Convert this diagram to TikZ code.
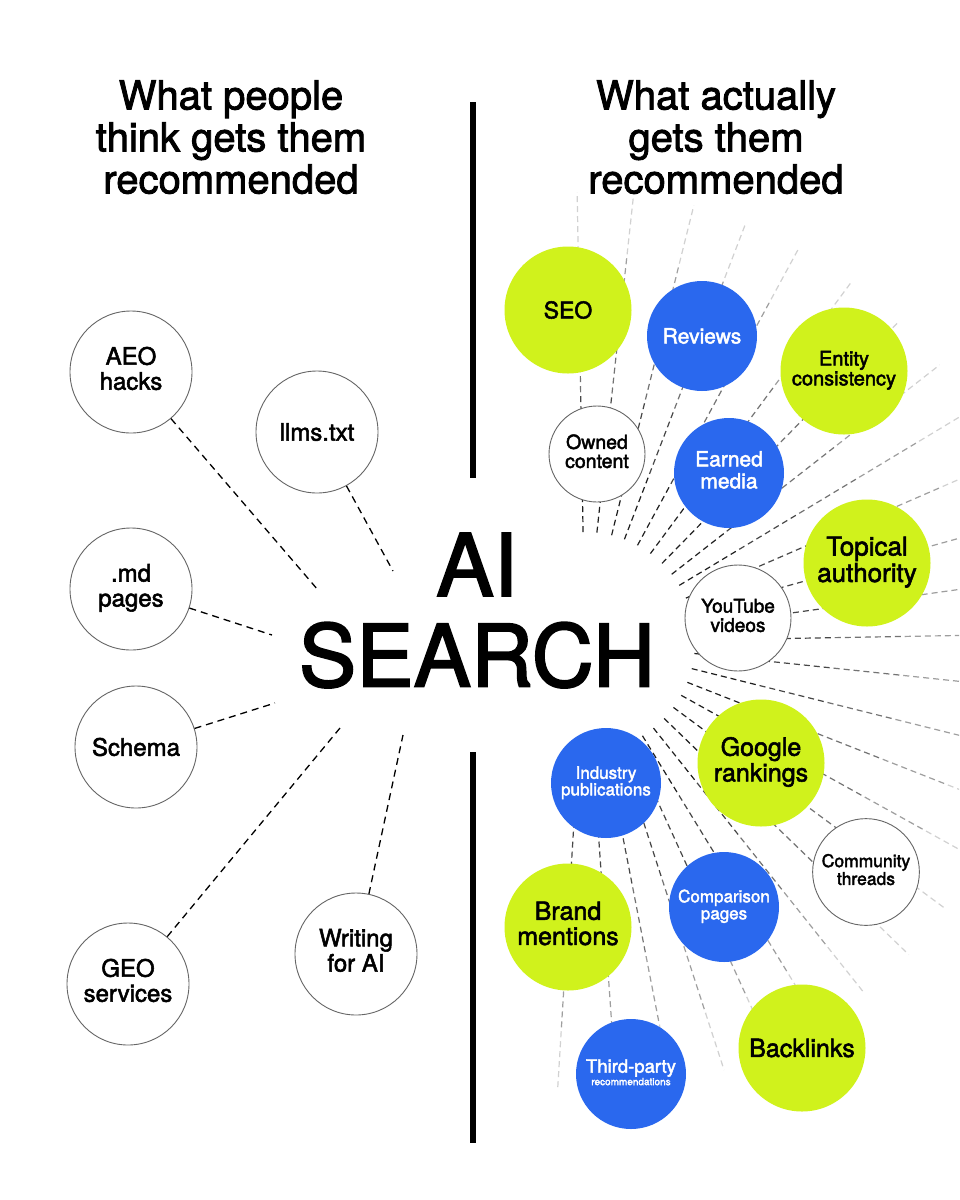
\documentclass[tikz,border=0pt]{standalone}
\usepackage{fontspec}
\setmainfont{TeX Gyre Heros}[FakeBold=2.2]
\usetikzlibrary{shapes}

\definecolor{lime}{HTML}{D0F21C}
\definecolor{brandblue}{HTML}{2A68EE}

\begin{document}
\begin{tikzpicture}[x=1pt, y=-1pt,
  bubble/.style={circle, draw=black!60, line width=0.9pt, fill=white, inner sep=0pt, minimum size=122pt, font=\fontsize{24}{25}\selectfont},
  lime bubble/.style={circle, fill=lime, inner sep=0pt, minimum size=127pt},
  blue bubble/.style={circle, fill=brandblue, text=white, inner sep=0pt, minimum size=110pt},
  link/.style={dash pattern=on 7pt off 5pt, line width=1.3pt},
  ray/.style={dash pattern=on 6pt off 4pt, line width=1.2pt}]

\useasboundingbox[fill=white] (0,0) rectangle (959,1200);

% titles
\node[font=\fontsize{40}{42}\selectfont] (L1) at (231,143) {
  \begin{tabular}{c}
    What people \\
    think gets them \\
    recommended
  \end{tabular}
  };
\node[font=\fontsize{40}{42}\selectfont] (L2) at (716,143) {
  \begin{tabular}{c}
    What actually \\
    gets them \\
    recommended
  \end{tabular}
  };

% separator
\draw[line width=5.5pt] (473,102) -- (473,478);
\draw[line width=5.5pt] (473,752) -- (473,1143);

\node[font=\fontsize{86}{88}\selectfont] (ai) at (477,623) {
  \begin{tabular}{c}
    AI \\
    SEARCH
  \end{tabular}
  };

% fan behind the right side
\coordinate (hub) at (585,642);
\begin{scope}
\clip (0,0) rectangle (959,1200);
\foreach \a in {-91,-83.8,-76,-69,-61.5,-53.5,-45.6,-38,-31,-23.5,-15.5,-8,-1,6,14,21.5,29,36.5,44,51.5,58.5,65.5,72,79,86,93.5}
  \foreach \ri/\ro/\k in {110/180/88,180/250/72,250/320/55,320/390/38,390/450/18}
    \draw[ray, black!\k, shift={(hub)}] (\a:\ri) -- (\a:\ro);
\end{scope}

% left side
\node[bubble] (n1) at (131,372) {
  \begin{tabular}{c}
    AEO \\
    hacks
  \end{tabular}
  };
\node[bubble] (n2) at (317,432) {llms.txt};
\node[bubble] (n3) at (131,589) {
  \begin{tabular}{c}
    .md \\
    pages
  \end{tabular}
  };
\node[bubble] (n4) at (136,747) {Schema};
\node[bubble] (n5) at (128,984) {
  \begin{tabular}{c}
    GEO \\
    services
  \end{tabular}
  };
\node[bubble] (n6) at (356,954) {
  \begin{tabular}{c}
    Writing \\
    for AI
  \end{tabular}
  };

\coordinate (e1) at (318,590);
\coordinate (e2) at (393,571);
\coordinate (e3) at (272,635);
\coordinate (e4) at (275,703);
\coordinate (e5) at (340,728);
\coordinate (e6) at (403,735);

\draw[link] (n1) -- (e1);
\draw[link] (n2) -- (e2);
\draw[link] (n3) -- (e3);
\draw[link] (n4) -- (e4);
\draw[link] (n5) -- (e5);
\draw[link] (n6) -- (e6);

% right side
\node[lime bubble, font=\fontsize{23}{24}\selectfont] (seo) at (568,310) {SEO};
\node[blue bubble, font=\fontsize{21}{22}\selectfont] (reviews) at (702,336) {Reviews};
\node[lime bubble, font=\fontsize{20}{19}\selectfont] (entity) at (844,371) {
  \begin{tabular}{c}
    Entity \\
    consistency
  \end{tabular}
  };
\node[bubble, minimum size=96pt, font=\fontsize{19.5}{19}\selectfont] (owned) at (597,454) {
  \begin{tabular}{c}
    Owned \\
    content
  \end{tabular}
  };
\node[blue bubble, font=\fontsize{21}{22}\selectfont] (earned) at (729,473) {
  \begin{tabular}{c}
    Earned \\
    media
  \end{tabular}
  };
\node[lime bubble, font=\fontsize{26}{25}\selectfont] (topical) at (867,563) {
  \begin{tabular}{c}
    Topical \\
    authority
  \end{tabular}
  };
\node[bubble, minimum size=106pt, font=\fontsize{19}{18}\selectfont] (youtube) at (738,618) {
  \begin{tabular}{c}
    YouTube \\
    videos
  \end{tabular}
  };
\node[lime bubble, font=\fontsize{25}{25}\selectfont] (google) at (761,763) {
  \begin{tabular}{c}
    Google \\
    rankings
  \end{tabular}
  };
\node[blue bubble, font=\fontsize{17}{14}\selectfont] (industry) at (606,783) {
  \begin{tabular}{c}
    Industry \\
    publications
  \end{tabular}
  };
\node[bubble, minimum size=102pt, font=\fontsize{17.5}{17}\selectfont] (community) at (866,872) {
  \begin{tabular}{c}
    Community \\
    threads
  \end{tabular}
  };
\node[blue bubble, font=\fontsize{17}{17}\selectfont] (comparison) at (724,907) {
  \begin{tabular}{c}
    Comparison \\
    pages
  \end{tabular}
  };
\node[lime bubble, font=\fontsize{25}{25}\selectfont] (brand) at (568,927) {
  \begin{tabular}{c}
    Brand \\
    mentions
  \end{tabular}
  };
\node[blue bubble, font=\fontsize{12}{12}\selectfont] (third) at (631,1074) {
  \begin{tabular}{c}
    {\fontsize{18.5}{18}\selectfont Third-party} \\
    {\fontsize{10}{10}\selectfont recommendations}
  \end{tabular}
  };
\node[lime bubble, font=\fontsize{25}{25}\selectfont] (backlinks) at (802,1048) {Backlinks};

\end{tikzpicture}
\end{document}
